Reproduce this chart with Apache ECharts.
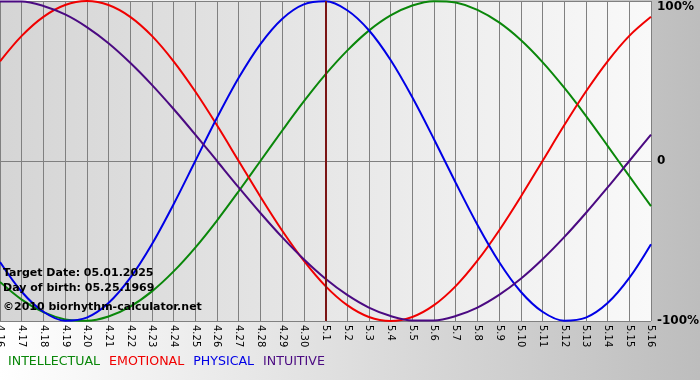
<!DOCTYPE html>
<html>
<head>
<meta charset="utf-8">
<script src="https://cdn.jsdelivr.net/npm/echarts@6/dist/echarts.min.js"></script>
<style>
html, body { margin: 0; padding: 0; }
#chart { width: 700px; height: 380px; }
</style>
</head>
<body>
<div id="chart"></div>
<script>
var days = ['4.16','4.17','4.18','4.19','4.20','4.21','4.22','4.23','4.24','4.25','4.26','4.27','4.28','4.29','4.30',
            '5.1','5.2','5.3','5.4','5.5','5.6','5.7','5.8','5.9','5.10','5.11','5.12','5.13','5.14','5.15','5.16'];

// values in percent
var intellectual = [-75.6,-86.6,-94.5,-99.0,-99.9,-97.2,-91.0,-81.5,-69.0,-54.1,-37.2,-18.9,0,18.9,37.2,54.1,69.0,81.5,91.0,97.2,99.9,99.0,94.5,86.6,75.6,61.8,45.8,28.2,9.5,-9.5,-28.2];
var emotional = [62.3,78.2,90.1,97.5,100,97.5,90.1,78.2,62.3,43.4,22.3,0,-22.3,-43.4,-62.3,-78.2,-90.1,-97.5,-100,-97.5,-90.1,-78.2,-62.3,-43.4,-22.3,0,22.3,43.4,62.3,78.2,90.1];
var physical = [-63.1,-81.7,-94.2,-99.8,-97.9,-88.8,-73.1,-52.0,-27.0,0,27.0,52.0,73.1,88.8,97.9,99.8,94.2,81.7,63.1,39.8,13.6,-13.6,-39.8,-63.1,-81.7,-94.2,-99.8,-97.9,-88.8,-73.1,-52.0];
var intuitive = [99.7,99.7,96.9,91.6,83.7,73.6,61.4,47.6,32.5,16.5,0,-16.5,-32.5,-47.6,-61.4,-73.6,-83.7,-91.6,-96.9,-99.7,-99.7,-96.9,-91.6,-83.7,-73.6,-61.4,-47.6,-32.5,-16.5,0,16.5];

var targetDay = '5.1';
var infoLines = ['Target Date: 05.01.2025', 'Day of birth: 05.25.1969'];
var copyright = '\u00a92010 biorhythm-calculator.net';

var myChart = echarts.init(document.getElementById('chart'));

function line(name, data, color) {
    return {
        name: name,
        type: 'line',
        data: data,
        smooth: 0.33,
        symbol: 'none',
        lineStyle: { color: color, width: 2 },
        itemStyle: { color: color },
        animation: false,
        z: 3
    };
}

var series = [
    line('INTELLECTUAL', intellectual, '#0a870a'),
    line('EMOTIONAL', emotional, '#f00000'),
    line('PHYSICAL', physical, '#0000e6'),
    line('INTUITIVE', intuitive, '#4b0a82')
];
// target date marker
series[0].markLine = {
    silent: true,
    symbol: 'none',
    label: { show: false },
    lineStyle: { color: '#7a1414', width: 2, type: 'solid' },
    data: [{ xAxis: targetDay }]
};

var option = {
    animation: false,
    backgroundColor: new echarts.graphic.LinearGradient(0, 0, 1, 0, [
        { offset: 0, color: '#ffffff' },
        { offset: 1, color: '#bdbdbd' }
    ]),
    textStyle: { fontFamily: 'DejaVu Sans' },
    grid: {
        left: 0, right: 49, top: 1, bottom: 59,
        outerBoundsMode: 'none',
        containLabel: false,
        show: true,
        borderWidth: 0,
        backgroundColor: new echarts.graphic.LinearGradient(0, 0, 1, 0, [
            { offset: 0, color: '#d5d5d5' },
            { offset: 1, color: '#f9f9f9' }
        ])
    },
    legend: {
        left: 3, top: 355,
        padding: 0,
        itemWidth: 0, itemHeight: 0, itemGap: 4,
        selectedMode: false,
        textStyle: { fontFamily: 'DejaVu Sans', fontSize: 12.6 },
        data: [
            { name: 'INTELLECTUAL', icon: 'none', textStyle: { color: '#0a870a' } },
            { name: 'EMOTIONAL', icon: 'none', textStyle: { color: '#f00000' } },
            { name: 'PHYSICAL', icon: 'none', textStyle: { color: '#0000e6' } },
            { name: 'INTUITIVE', icon: 'none', textStyle: { color: '#4b0a82' } }
        ]
    },
    xAxis: {
        type: 'category',
        data: days,
        boundaryGap: false,
        axisLine: { show: true, lineStyle: { color: '#808080' } },
        axisTick: { show: false },
        splitLine: { show: true, lineStyle: { color: '#808080', width: 1 } },
        axisLabel: {
            interval: 0,
            rotate: -90,
            margin: 4,
            color: '#000',
            fontSize: 10,
            fontFamily: 'DejaVu Sans'
        }
    },
    yAxis: {
        type: 'value',
        position: 'right',
        min: -100, max: 100, interval: 100,
        axisLine: { show: false },
        axisTick: { show: false },
        splitLine: { show: true, lineStyle: { color: '#808080', width: 1 } },
        axisLabel: {
            margin: 6,
            color: '#000',
            fontWeight: 'bold',
            fontSize: 12,
            fontFamily: 'DejaVu Sans',
            verticalAlignMaxLabel: 'top',
            formatter: function (v) { return v === 0 ? '0' : v + '%'; }
        }
    },
    graphic: [
        { type: 'text', left: 3, top: 265, z: 10,
          style: { text: infoLines.join('\n'), font: 'bold 11px "DejaVu Sans"', fill: '#000', lineHeight: 15.5 } },
        { type: 'text', left: 3, top: 302, z: 10,
          style: { text: copyright, font: 'bold 11px "DejaVu Sans"', fill: '#000' } }
    ],
    series: series
};

myChart.setOption(option);

window.onresize = function () {
    myChart.resize();
};
</script>
</body>
</html>
